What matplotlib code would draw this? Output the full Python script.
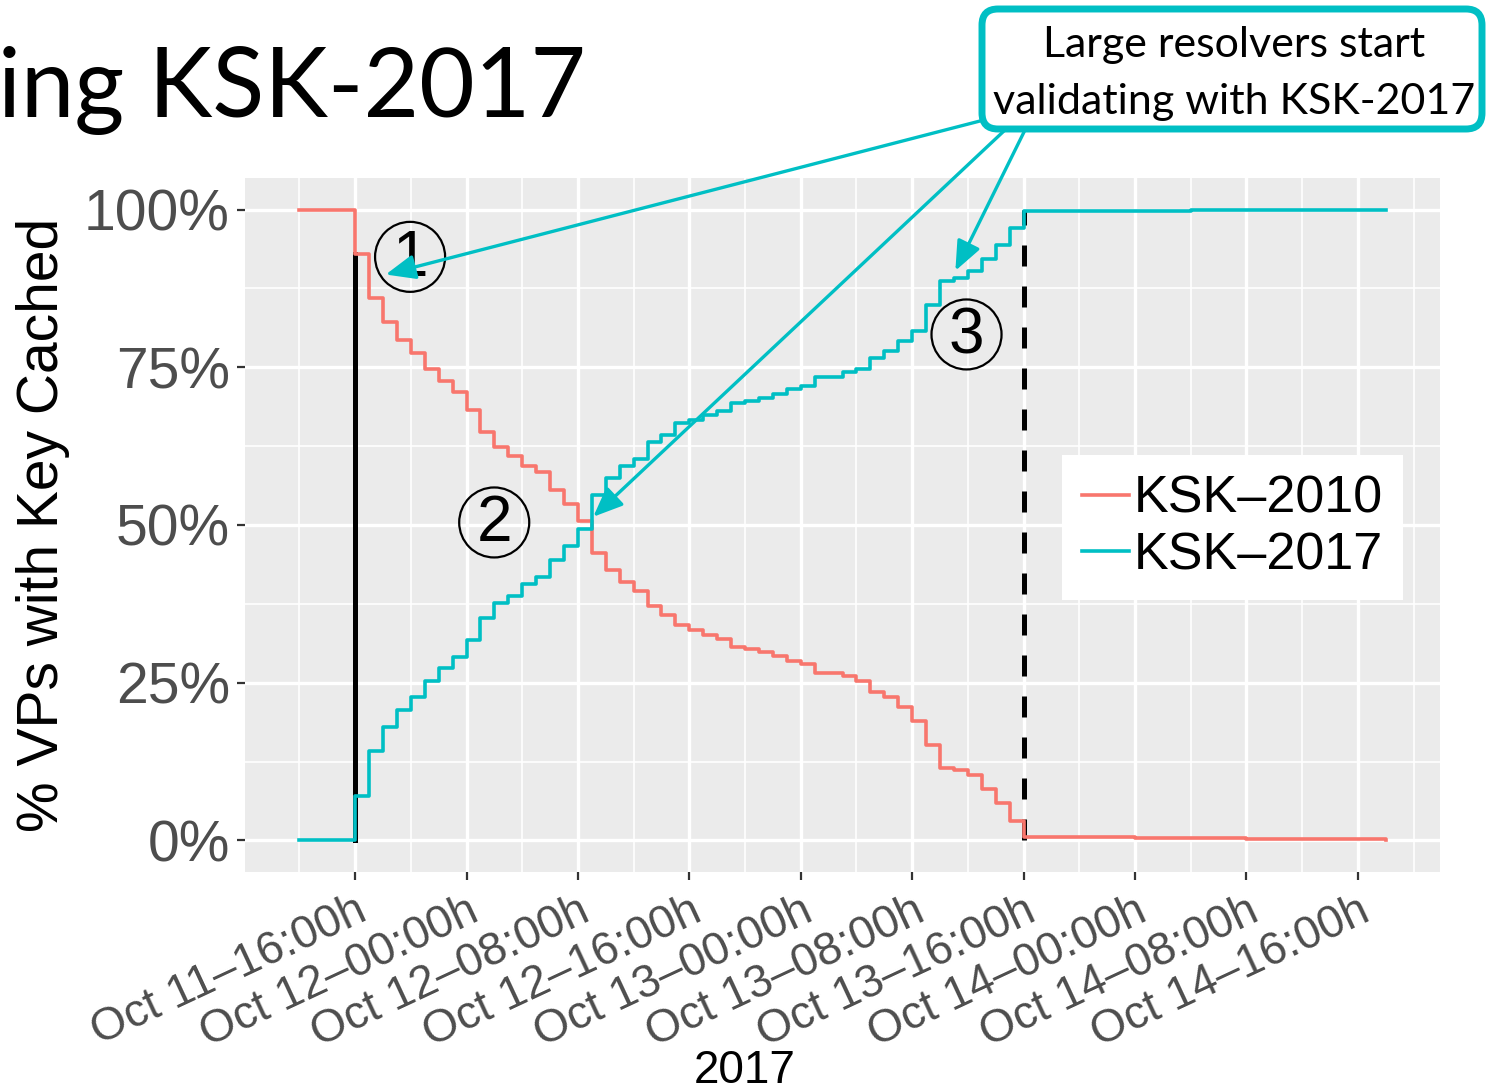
import matplotlib
matplotlib.use("Agg")
import matplotlib.pyplot as plt
from matplotlib.patches import FancyBboxPatch, Ellipse
from matplotlib.transforms import IdentityTransform

# hours after Oct 11 16:00
hours = [-4] + list(range(0, 49)) + [52, 56, 60, 64, 68, 74]

ksk2010 = [100.0,
           93.0, 85.9, 82.2, 79.4, 77.2, 74.8, 72.8, 71.0, 68.3, 64.7,
           62.3, 61.0, 59.3, 58.4, 55.5, 53.4, 50.6, 45.6, 42.8, 41.0,
           39.6, 37.1, 35.7, 34.1, 33.3, 32.5, 31.9, 30.7, 30.3, 29.8,
           29.2, 28.4, 28.0, 26.6, 26.6, 26.0, 25.2, 23.6, 22.7, 21.1,
           19.0, 15.2, 11.4, 11.2, 10.3, 8.1, 5.9, 3.0, 0.6,
           0.5, 0.4, 0.35, 0.25, 0.15, 0.1]

ksk2017 = [0.0,
           7.1, 14.1, 17.9, 20.6, 22.8, 25.2, 27.3, 29.0, 31.7, 35.3,
           37.7, 38.8, 40.7, 41.7, 44.4, 46.6, 49.4, 54.7, 57.4, 59.3,
           60.5, 63.1, 64.2, 66.1, 66.7, 67.4, 68.1, 69.4, 69.7, 70.2,
           70.8, 71.5, 72.1, 73.4, 73.4, 74.2, 74.8, 76.4, 77.5, 79.1,
           80.8, 84.8, 88.6, 89.1, 90.2, 92.1, 94.3, 97.1, 99.7,
           99.75, 99.8, 99.85, 99.9, 99.9, 99.95]

tick_hours = [0, 8, 16, 24, 32, 40, 48, 56, 64, 72]
tick_labels = ["Oct 11\u201316:00h", "Oct 12\u201300:00h", "Oct 12\u201308:00h",
               "Oct 12\u201316:00h", "Oct 13\u201300:00h", "Oct 13\u201308:00h",
               "Oct 13\u201316:00h", "Oct 14\u201300:00h", "Oct 14\u201308:00h",
               "Oct 14\u201316:00h"]
y_ticks = [0, 25, 50, 75, 100]
y_labels = ["0%", "25%", "50%", "75%", "100%"]

red = "#F8766D"
cyan = "#00BFC4"

fig = plt.figure(figsize=(14.86, 10.92), dpi=100)
ax = fig.add_axes([0.1649, 0.2015, 0.8042, 0.6355])
ax.set_facecolor("#EBEBEB")
for s in ax.spines.values():
    s.set_visible(False)

ax.set_xlim(-7.9, 77.9)
ax.set_ylim(-5, 105)

# grid
for h in range(-4, 78, 8):
    ax.axvline(h, color="white", lw=1.2, zorder=0)
for v in [12.5, 37.5, 62.5, 87.5]:
    ax.axhline(v, color="white", lw=1.2, zorder=0)
for h in tick_hours:
    ax.axvline(h, color="white", lw=2.4, zorder=0)
for v in y_ticks:
    ax.axhline(v, color="white", lw=2.4, zorder=0)

# rollover markers
ax.plot([0, 0], [0, ksk2010[1]], color="black", lw=3.6, zorder=1)
ax.plot([48, 48], [0, 100], color="black", lw=3.6, dashes=(4.2, 4.0), zorder=1)

ax.plot(hours, ksk2010, drawstyle="steps-post", color=red, lw=2.6, label="KSK\u20132010", zorder=2)
ax.plot(hours, ksk2017, drawstyle="steps-post", color=cyan, lw=2.6, label="KSK\u20132017", zorder=2)

ax.set_xticks(tick_hours)
ax.set_xticklabels(tick_labels, rotation=25, ha="right", va="top",
                   rotation_mode="anchor", fontsize=33, color="#4D4D4D",
                   family="Liberation Sans")
ax.set_yticks(y_ticks)
ax.set_yticklabels(y_labels, fontsize=41, color="#4D4D4D", family="Liberation Sans")
ax.tick_params(axis="both", length=6, width=1.6, color="#333333")
ax.tick_params(axis="y", pad=5)
ax.tick_params(axis="x", pad=6)

ax.set_ylabel("% VPs with Key Cached", fontsize=41, family="Liberation Sans", labelpad=10)
fig.text(745 / 1486, 1 - 1083 / 1092, "2017", fontsize=33, family="Liberation Sans",
         ha="center", va="baseline")

leg = ax.legend(loc="upper left", bbox_to_anchor=(0.7147, 0.5833),
                bbox_transform=fig.transFigure, frameon=True,
                fancybox=False, framealpha=1, edgecolor="white",
                handlelength=0.9, handletextpad=0.1, labelspacing=0.15,
                borderpad=0.38, borderaxespad=0,
                prop={"family": "Liberation Sans", "size": 37.5})
leg.get_frame().set_linewidth(0)
for ln in leg.get_lines():
    ln.set_linewidth(2.6)

# circled step numbers
for txt, hx, vy in [("1", 3.95, 92.5), ("2", 9.99, 50.4), ("3", 43.9, 80.2)]:
    ax.add_patch(Ellipse((hx, vy), 70 / 13.92, 70 / 6.31, fill=False,
                         ec="black", lw=1.6, zorder=4))
    ax.text(hx, vy - 0.3, txt, fontsize=46, family="Liberation Sans",
            ha="center", va="center", zorder=4)

# arrows from the note box
arrows = [((2.2, 89.7), (980, 121)),
          ((17.1, 51.3), (1005, 130)),
          ((43.1, 90.3), (1025, 130))]
for target, src in arrows:
    ax.annotate("", xy=target, xycoords="data",
                xytext=(src[0] / 1486, 1 - src[1] / 1092), textcoords="figure fraction",
                arrowprops=dict(arrowstyle="-|>,head_length=0.6,head_width=0.25",
                                mutation_scale=30, color=cyan, lw=2.4,
                                shrinkA=0, shrinkB=0),
                annotation_clip=False, zorder=5)

box = FancyBboxPatch((982, 1092 - 129), 500, 120,
                     boxstyle="round,pad=0,rounding_size=16",
                     transform=IdentityTransform(), fc="white", ec=cyan, lw=5,
                     zorder=10)
fig.patches.append(box)
fig.text(1234 / 1486, 1 - 57 / 1092, "Large resolvers start", fontsize=31,
         family="Lato", ha="center", va="baseline", zorder=11)
fig.text(1234 / 1486, 1 - 114 / 1092, "validating with KSK-2017", fontsize=31,
         family="Lato", ha="center", va="baseline", zorder=11)

# slide title, cut at the left edge
fig.text(-2 / 1486, 1 - 117 / 1092, "ing KSK-2017", fontsize=69, family="Lato",
         ha="left", va="baseline")

fig.savefig("out.png", dpi=100)
